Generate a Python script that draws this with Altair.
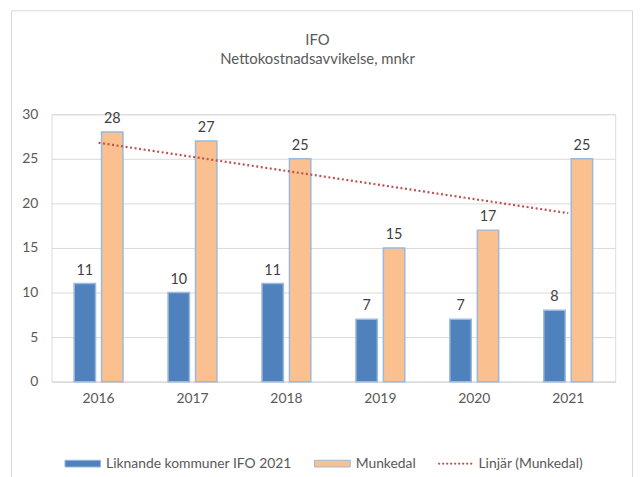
import altair as alt
import pandas as pd

# ---- data ----
years = ["2016", "2017", "2018", "2019", "2020", "2021"]
liknande = [11, 10, 11, 7, 7, 8]
munkedal = [28, 27, 25, 15, 17, 25]
trend_years = ["2016", "2021"]
trend_values = [26.8, 18.9]
series_names = ["Liknande kommuner IFO 2021", "Munkedal", "Linjär (Munkedal)"]
title_lines = ["IFO", "Nettokostnadsavvikelse, mnkr"]
y_ticks = [0, 5, 10, 15, 20, 25, 30]

bars_df = pd.DataFrame({
    "year": years * 2,
    "series": [series_names[0]] * len(years) + [series_names[1]] * len(years),
    "value": liknande + munkedal,
})
trend_df = pd.DataFrame({"year": trend_years, "value": trend_values})
legend_df = pd.DataFrame({"series": series_names})

BLUE = "#4F81BD"
PEACH = "#FAC090"
EDGE = "#9BB9DD"
RED = "#C0504D"
GRID = "#D9D9D9"
TXT = "#595959"
FONT = "Lato"

x_scale = alt.Scale(domain=years, paddingInner=0.48, paddingOuter=0.24)
x_enc = alt.X("year:N", scale=x_scale,
              axis=alt.Axis(title=None, labelAngle=0, ticks=False, domain=True,
                            domainColor=GRID, labelPadding=10, grid=False,
                            labelColor=TXT, labelFont=FONT, labelFontSize=14))
xoff = alt.XOffset("series:N",
                   scale=alt.Scale(domain=series_names[:2], paddingInner=0.22, paddingOuter=0))
y_enc = alt.Y("value:Q", scale=alt.Scale(domain=[0, 30], nice=False),
              axis=alt.Axis(title=None, values=y_ticks, ticks=False, domain=False,
                            grid=True, gridColor=GRID, labelPadding=14,
                            labelColor=TXT, labelFont=FONT, labelFontSize=14))

frame = alt.Chart(alt.Data(values=[{"k": 1}])).mark_rect(
    fill="transparent", stroke=GRID, strokeWidth=1
).encode(x=alt.value(-40.5), x2=alt.value(586.5), y=alt.value(-104.5), y2=alt.value(370))

bars_a = alt.Chart(bars_df).transform_filter(
    alt.datum.series == series_names[0]
).mark_bar(fill=BLUE, stroke=EDGE, strokeWidth=1.5).encode(x=x_enc, xOffset=xoff, y=y_enc)

bars_b = alt.Chart(bars_df).transform_filter(
    alt.datum.series == series_names[1]
).mark_bar(fill=PEACH, stroke=EDGE, strokeWidth=1.5).encode(x=x_enc, xOffset=xoff, y=y_enc)

labels = alt.Chart(bars_df).mark_text(
    baseline="bottom", dy=-6, fontSize=14.5, font=FONT, color="#404040"
).encode(x=x_enc, xOffset=xoff, y=y_enc, text=alt.Text("value:Q"))

trend = alt.Chart(trend_df).mark_line(
    color=RED, strokeDash=[2, 2.6], strokeWidth=2.2
).encode(x=x_enc, y=y_enc)

rect_path = "M-1,-0.19H1V0.19H-1Z"
dots = []
for i in range(9):
    c = -0.9 + i * 0.225
    dots.append(f"M{c-0.03:.3f},-0.03H{c+0.03:.3f}V0.03H{c-0.03:.3f}Z")
dots_path = " ".join(dots)

leg = alt.Legend(title=None, orient="none", legendX=13, legendY=334,
                 direction="horizontal", columns=3, labelFont=FONT,
                 labelFontSize=14, labelColor=TXT, labelLimit=400,
                 symbolSize=1296, symbolStrokeWidth=1, labelOffset=5,
                 columnPadding=20)

legend_layer = alt.Chart(legend_df).transform_filter("false").mark_point(
    filled=True, opacity=1
).encode(
    fill=alt.Fill("series:N", scale=alt.Scale(domain=series_names, range=[BLUE, PEACH, RED]), legend=leg),
    stroke=alt.Stroke("series:N", scale=alt.Scale(domain=series_names, range=[EDGE, EDGE, RED]), legend=leg),
    shape=alt.Shape("series:N", scale=alt.Scale(domain=series_names, range=[rect_path, rect_path, dots_path]), legend=leg),
)

chart = alt.layer(frame, bars_a, bars_b, labels, trend, legend_layer).properties(
    width=569,
    height=270,
    autosize=alt.AutoSizeParams(type="none"),
    padding={"left": 44, "top": 105, "right": 19, "bottom": 94},
    title=alt.TitleParams(text=title_lines, anchor="middle", offset=-57.5, dx=-16,
                          font=FONT, fontSize=15, fontWeight="normal",
                          color=TXT, lineHeight=19),
).configure_view(strokeWidth=0).configure(background="white")

chart.save("out.html", embed_options={"renderer": "svg", "actions": False})
